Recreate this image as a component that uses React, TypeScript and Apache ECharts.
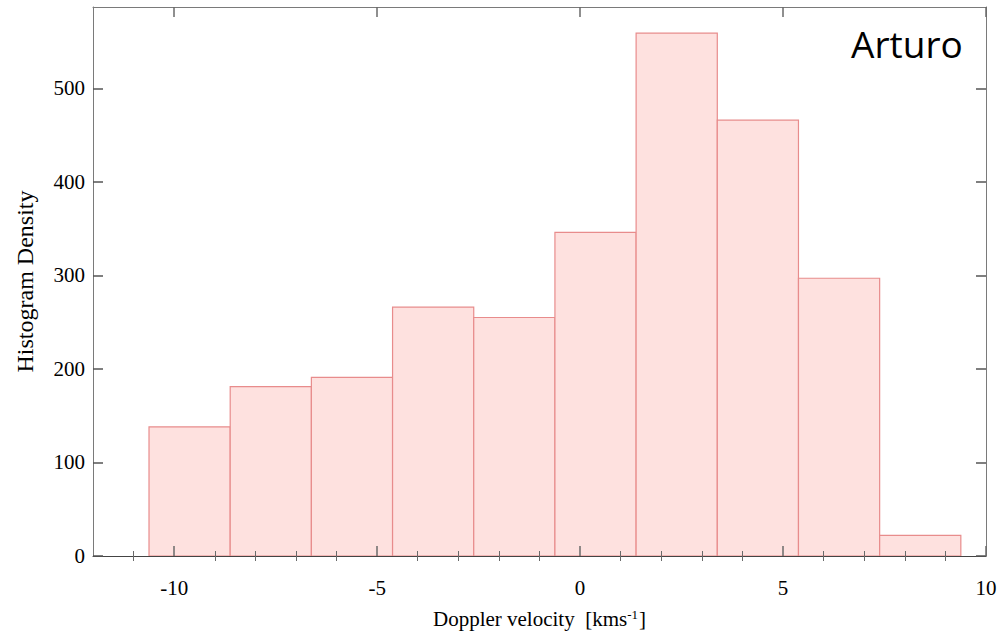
import React, { useEffect, useRef } from "react";
import * as echarts from "echarts";

const binEdges = [-10.62, -8.62, -6.62, -4.62, -2.62, -0.62, 1.38, 3.38, 5.38, 7.38, 9.38];
const counts = [138, 181, 191, 266, 255, 346, 559, 466, 297, 22];
const xMajorTicks = [-10, -5, 0, 5, 10];
const xMinorTicks = [-11, -9, -8, -7, -6, -4, -3, -2, -1, 1, 2, 3, 4, 6, 7, 8, 9];
const yTicks = [0, 100, 200, 300, 400, 500];
const xTitle = "Doppler velocity  [kms";
const yTitle = "Histogram Density";
const label = "Arturo";

const X_MIN = -12;
const X_MAX = 10;
const Y_MIN = 0;
const Y_MAX = 587;

export default function App() {
  const ref = useRef<HTMLDivElement>(null);
  useEffect(() => {
    if (!ref.current) return;
    const chart = echarts.init(ref.current, null, { renderer: "svg" });
    const data = counts.map((c, i) => [binEdges[i], binEdges[i + 1], c]);
    const serif = "Liberation Serif";
    const axisGray = "#7a7a7a";
    const tickColor = "#6a6a6a";
    const baseX = {
      type: "value",
      min: X_MIN,
      max: X_MAX,
      z: 5,
      splitLine: { show: false },
    };
    const baseY = {
      type: "value",
      min: Y_MIN,
      max: Y_MAX,
      z: 5,
      splitLine: { show: false },
    };
    chart.setOption({
      animation: false,
      backgroundColor: "#ffffff",
      grid: { left: 93, right: 14, top: 7, bottom: 74, containLabel: false },
      xAxis: [
        {
          ...baseX,
          position: "bottom",
          axisLine: { show: true, onZero: false, lineStyle: { color: "#444", width: 1 } },
          axisTick: { show: true, inside: true, length: 10, customValues: xMajorTicks, lineStyle: { color: tickColor, width: 1.5 } },
          axisLabel: { show: true, customValues: xMajorTicks, margin: 21, color: "#000", fontFamily: serif, fontSize: 21 },
          name: xTitle + "{sup|-1}]",
          nameLocation: "middle",
          nameGap: 52,
          nameTextStyle: {
            color: "#000",
            fontFamily: serif,
            fontSize: 21,
            rich: { sup: { fontSize: 13, fontFamily: serif, color: "#000", verticalAlign: "top", padding: [0, 1, 8, 0] } },
          },
        },
        {
          ...baseX,
          position: "bottom",
          axisLine: { show: false },
          axisTick: { show: true, inside: true, length: 5, customValues: xMinorTicks, lineStyle: { color: tickColor, width: 1 } },
          axisLabel: { show: false },
        },
        {
          ...baseX,
          position: "top",
          axisLine: { show: true, onZero: false, lineStyle: { color: axisGray, width: 1 } },
          axisTick: { show: true, inside: true, length: 10, customValues: xMajorTicks, lineStyle: { color: tickColor, width: 1.5 } },
          axisLabel: { show: false },
        },
        {
          ...baseX,
          position: "top",
          axisLine: { show: false },
          axisTick: { show: true, inside: true, length: 5, customValues: xMinorTicks, lineStyle: { color: tickColor, width: 1 } },
          axisLabel: { show: false },
        },
      ],
      yAxis: [
        {
          ...baseY,
          position: "left",
          axisLine: { show: true, onZero: false, lineStyle: { color: axisGray, width: 1 } },
          axisTick: { show: true, inside: true, length: 10, customValues: yTicks, lineStyle: { color: "#555", width: 1.5 } },
          axisLabel: { show: true, customValues: yTicks, margin: 8, padding: [6, 0, 0, 0], color: "#000", fontFamily: serif, fontSize: 21 },
          name: yTitle,
          nameLocation: "middle",
          nameGap: 56,
          nameRotate: 90,
          nameTextStyle: { color: "#000", fontFamily: serif, fontSize: 24 },
        },
        {
          ...baseY,
          position: "right",
          axisLine: { show: true, onZero: false, lineStyle: { color: axisGray, width: 1 } },
          axisTick: { show: true, inside: true, length: 10, customValues: yTicks, lineStyle: { color: "#555", width: 1.5 } },
          axisLabel: { show: false },
        },
      ],
      graphic: [
        {
          type: "text",
          left: 851,
          top: 25,
          style: { text: label, fill: "#000", font: "37px 'Open Sans'" },
        },
      ],
      series: [
        {
          type: "custom",
          xAxisIndex: 0,
          yAxisIndex: 0,
          z: 2,
          encode: { x: [0, 1], y: 2 },
          data,
          renderItem: (_params: any, api: any) => {
            const p0 = api.coord([api.value(0), api.value(2)]);
            const p1 = api.coord([api.value(1), 0]);
            return {
              type: "rect",
              shape: { x: p0[0], y: p0[1], width: p1[0] - p0[0], height: p1[1] - p0[1] },
              style: { fill: "#fee1df", stroke: "#e88c8c", lineWidth: 1.2 },
            };
          },
        },
      ],
    });
    return () => chart.dispose();
  }, []);
  return (
    <div
      ref={ref}
      style={{ position: "fixed", left: 0, top: 0, width: 1000, height: 634, background: "#fff" }}
    />
  );
}
